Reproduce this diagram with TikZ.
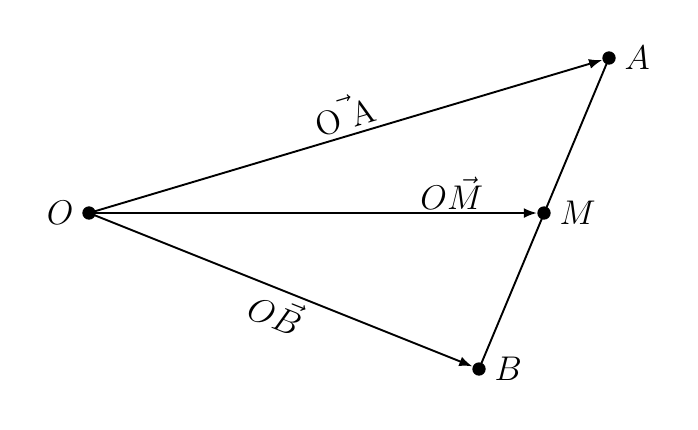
\documentclass[tikz,border=0pt]{standalone}
\usetikzlibrary{arrows.meta}
\begin{document}
\begin{tikzpicture}[x=0.42pt,y=-0.42pt,
  dot/.style={circle,fill=black,inner sep=0pt,minimum size=5.6pt},
  vec/.style={-{Latex[length=5.5pt,width=4.2pt]},line width=0.8pt},
  seg/.style={line width=0.8pt},
  lbl/.style={font=\fontsize{14.2}{17}\selectfont}]
\useasboundingbox (0,0) rectangle (698,429);
\node[dot] (O) at (89,213) {};
\node[dot] (A) at (609,58) {};
\node[dot] (M) at (544,213) {};
\node[dot] (B) at (479,369) {};
\node[lbl,anchor=east] (lO) at ([xshift=-3pt]O.center) {$O$};
\node[lbl,anchor=west] (lA) at ([xshift=3pt]A.center) {$A$};
\node[lbl,anchor=west] (lM) at ([xshift=3pt]M.center) {$M$};
\node[lbl,anchor=west] (lB) at ([xshift=3pt]B.center) {$B$};
\draw[seg] (A.center) -- (B.center);
\draw[vec] (O.center) -- node[lbl,sloped,above,pos=0.51,inner sep=2pt] (tOA) {O$\vec{\rule{0pt}{1.6ex}\kern0.3em}$A} (A);
\draw[vec] (O.center) -- node[lbl,above,pos=0.81,inner sep=1pt] (tOM) {$O\vec{M}$} (M);
\draw[vec] (O.center) -- node[lbl,sloped,below,pos=0.51,inner sep=2pt] (tOB) {$O\vec{B}$} (B);
\end{tikzpicture}
\end{document}
